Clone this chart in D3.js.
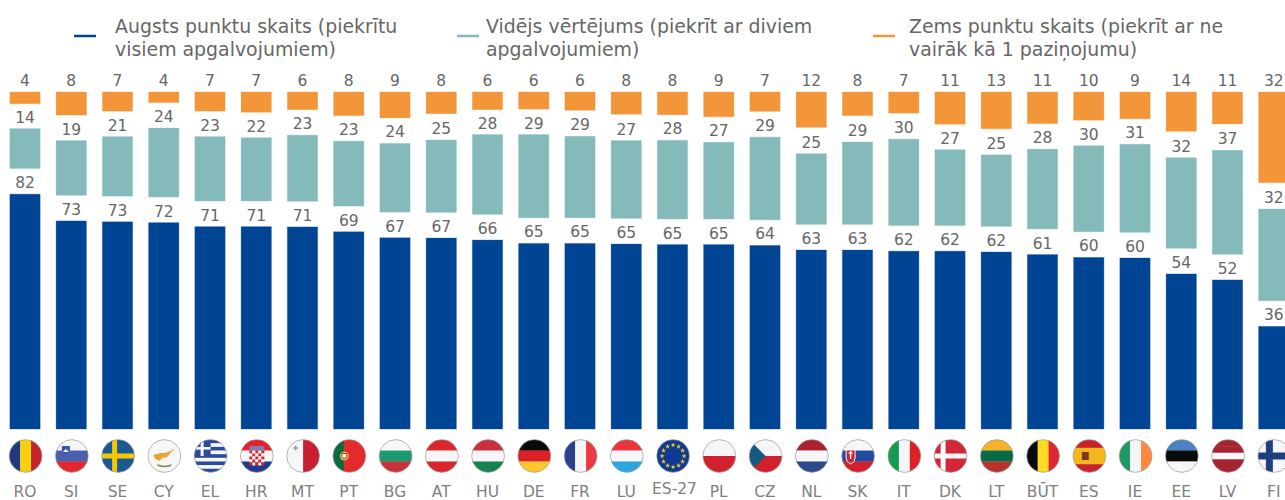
<!DOCTYPE html>
<html>
<head>
<meta charset="utf-8">
<style>
  html, body { margin: 0; padding: 0; background: #fff; overflow: hidden; }
  text { font-family: "DejaVu Sans", Verdana, sans-serif; }
</style>
<script src="https://cdn.jsdelivr.net/npm/d3@7"></script>
</head>
<body>
<div id="chart"></div>
<script>
// values (percent), labels are these rounded
var countries = ["RO","SI","SE","CY","EL","HR","MT","PT","BG","AT","HU","DE","FR","LU","ES-27","PL","CZ","NL","SK","IT","DK","LT","BŪT","ES","IE","EE","LV","FI"];
var high = [82.4,73.0,72.7,72.4,71.0,71.0,70.9,69.2,67.1,67.0,66.3,65.1,65.1,64.9,64.7,64.7,64.4,62.8,62.8,62.4,62.4,62.1,61.2,60.2,60.0,54.4,52.3,36.0];
var medium = [14.0,19.2,20.9,24.2,22.6,22.2,23.2,22.8,24.1,25.4,28.0,29.2,28.6,27.3,27.6,26.9,29.0,24.8,28.9,30.3,26.6,25.1,28.0,30.2,30.9,31.8,36.5,32.2];
var low = [4.1,8.1,6.7,3.7,6.7,7.1,6.2,8.3,9.1,7.6,6.2,6.0,6.4,7.8,8.0,8.7,6.8,12.4,8.3,7.4,11.3,12.9,11.1,9.9,9.4,13.8,11.2,31.8];
var legendLabels = [
  ["Augsts punktu skaits (piekrītu", "visiem apgalvojumiem)"],
  ["Vidējs vērtējums (piekrīt ar diviem", "apgalvojumiem)"],
  ["Zems punktu skaits (piekrīt ar ne", "vairāk kā 1 paziņojumu)"]
];
var spacer = 9; // invisible gap series between the blue and teal stacks

var width = 1285, height = 500;
var colors = {high: "#004494", medium: "#85BABB", low: "#F39539"};

var svg = d3.select("#chart").append("svg")
  .attr("width", width)
  .attr("height", height)
  .style("display", "block");

var x = d3.scaleBand()
  .domain(countries)
  .range([1.875, 1296.875])
  .paddingInner(0.345)
  .paddingOuter(0.1725);

var baseY = 429, topY = 92, unit = 2.85;
var yUp = d3.scaleLinear().domain([0, 100]).range([baseY, baseY - 100 * unit]);
var yDown = d3.scaleLinear().domain([0, 100]).range([topY, topY + 100 * unit]);

function bars(cls, color, y0, y1) {
  svg.selectAll("rect." + cls)
    .data(countries)
    .enter().append("rect")
      .attr("class", cls)
      .attr("x", function(d) { return x(d); })
      .attr("width", x.bandwidth())
      .attr("y", function(d, i) { return y1(i); })
      .attr("height", function(d, i) { return y0(i) - y1(i); })
      .attr("fill", color)
      .attr("stroke", color)
      .attr("stroke-opacity", 0.3)
      .attr("stroke-width", 1);
}

function labels(cls, values, y1) {
  svg.selectAll("text." + cls)
    .data(countries)
    .enter().append("text")
      .attr("class", cls)
      .attr("x", function(d) { return x(d) + x.bandwidth() / 2; })
      .attr("y", function(d, i) { return y1(i) - 6; })
      .attr("text-anchor", "middle")
      .attr("font-size", 15.5)
      .attr("fill", "#666")
      .text(function(d, i) { return Math.round(values[i]); });
}

// Blue at the bottom, teal stacked over it with the spacer, orange hangs from the top
var highTop = function(i) { return yUp(high[i]); };
var medBottom = function(i) { return yUp(high[i] + spacer); };
var medTop = function(i) { return yUp(high[i] + spacer + medium[i]); };
var lowTop = function(i) { return yDown(0); };
var lowBottom = function(i) { return yDown(low[i]); };

bars("high", colors.high, function() { return yUp(0); }, highTop);
bars("medium", colors.medium, medBottom, medTop);
bars("low", colors.low, lowBottom, lowTop);

labels("lblHigh", high, highTop);
labels("lblMedium", medium, medTop);
labels("lblLow", low, lowTop);

// Legend
var legendX = [74, 457, 873];
var legendColors = [colors.high, colors.medium, colors.low];
var legendTextX = [115, 486, 909];
legendLabels.forEach(function(lines, i) {
  svg.append("line")
    .attr("x1", legendX[i]).attr("x2", legendX[i] + 22)
    .attr("y1", 36).attr("y2", 36)
    .attr("stroke", legendColors[i])
    .attr("stroke-width", 2.5);
  lines.forEach(function(line, j) {
    svg.append("text")
      .attr("x", legendTextX[i])
      .attr("y", 33 + j * 23)
      .attr("font-size", 18.9)
      .attr("fill", "#666")
      .text(line);
  });
});

// Country codes under the bars
var codeNudge = {"ES-27": [2, -3]};
svg.selectAll("text.code")
  .data(countries)
  .enter().append("text")
    .attr("class", "code")
    .attr("x", function(d) { return x(d) + x.bandwidth() / 2 + (codeNudge[d] ? codeNudge[d][0] : 0); })
    .attr("y", function(d) { return 497 + (codeNudge[d] ? codeNudge[d][1] : 0); })
    .attr("text-anchor", "middle")
    .attr("font-size", 15.5)
    .attr("fill", "#808080")
    .text(function(d) { return d; });

// Flags: round badges made of stripes plus a few small extras
var r = 16.4;
var stripes = {
  RO: ["v", "#22387c", "#f6d110", "#c8202f"],
  SI: ["h", "#f6f6f8", "#4a5fae", "#e4272e"],
  SE: ["h", "#1a5a94"],
  CY: ["h", "#f7f7f7"],
  EL: ["h", "#2a4a9c", "#f7f7f9", "#2a4a9c", "#f7f7f9", "#2a4a9c", "#f7f7f9", "#2a4a9c", "#f7f7f9", "#2a4a9c"],
  HR: ["h", "#e3202c", "#f6f6f6", "#1f3a8a"],
  MT: ["v", "#f6f6f8", "#c8202f"],
  PT: ["v", "#0c6b3a", "#e42a2a", "#e42a2a"],
  BG: ["h", "#f6f6f6", "#1a9a6e", "#c8323a"],
  AT: ["h", "#d9262c", "#f6f6f8", "#d9262c"],
  HU: ["h", "#c8303f", "#f6f6f8", "#16834f"],
  DE: ["h", "#0a0a0a", "#dd2027", "#fdc82f"],
  FR: ["v", "#2b3f8e", "#f6f6f8", "#ec3a40"],
  LU: ["h", "#ea353d", "#f6f6f8", "#2ca6dd"],
  "ES-27": ["h", "#0f3a94"],
  PL: ["h", "#f6f6f8", "#d3202f"],
  CZ: ["h", "#f6f6f8", "#d3202f"],
  NL: ["h", "#a8232f", "#f6f6f8", "#2a4a8c"],
  SK: ["h", "#f6f6f8", "#2449a0", "#d3202f"],
  IT: ["v", "#169b4e", "#f6f6f8", "#dd2027"],
  DK: ["h", "#d3263a"],
  LT: ["h", "#f5b428", "#086a47", "#b8332e"],
  "BŪT": ["v", "#0a0a0a", "#fdda24", "#e0262e"],
  ES: ["h", "#c6242a", "#f5b81c", "#f5b81c", "#c6242a"],
  IE: ["v", "#1f9a66", "#f6f6f8", "#ff883e"],
  EE: ["h", "#4a82c2", "#0a0a0a", "#f6f6f8"],
  LV: ["h", "#a5232f", "#a5232f", "#f6f6f8", "#a5232f", "#a5232f"],
  FI: ["h", "#f6f6f8"]
};

function cross(g, color, cx, thick) {
  g.append("rect").attr("x", -r).attr("y", -thick / 2).attr("width", 2 * r).attr("height", thick).attr("fill", color);
  g.append("rect").attr("x", cx - thick / 2).attr("y", -r).attr("width", thick).attr("height", 2 * r).attr("fill", color);
}

var extras = {
  SE: function(g) { cross(g, "#f5c800", -3.5, 5); },
  DK: function(g) { cross(g, "#f6f6f8", -7.5, 5); },
  FI: function(g) { cross(g, "#1f3f80", -5, 7); },
  EL: function(g) {
    g.append("rect").attr("x", -r).attr("y", -r).attr("width", r).attr("height", r).attr("fill", "#2a4a9c");
    g.append("rect").attr("x", -10).attr("y", -r).attr("width", 3).attr("height", r).attr("fill", "#f7f7f9");
    g.append("rect").attr("x", -r).attr("y", -9).attr("width", r).attr("height", 2.6).attr("fill", "#f7f7f9");
  },
  CZ: function(g) {
    g.append("path").attr("d", d3.line()([[-r, -r], [0, 0], [-r, r]])).attr("fill", "#155a80");
  },
  CY: function(g) {
    g.append("path")
      .attr("d", "M-11,-1 L-4,-3 L1,-3 L6,-5 L11,-8 L6,-3 L3,1 L-2,2 L-5,5 L-9,3 Z")
      .attr("fill", "#e8a33c");
    g.append("path")
      .attr("d", "M-7,9 Q0,12 7,9")
      .attr("fill", "none").attr("stroke", "#7e8f5a").attr("stroke-width", 1.6);
  },
  MT: function(g) {
    g.append("path").attr("d", "M-10,-8 h5 M-7.500,-10.500 v5").attr("stroke", "#999").attr("stroke-width", 1.4);
  },
  HR: function(g) {
    d3.range(5).forEach(function(row) {
      d3.range(5).forEach(function(col) {
        g.append("rect")
          .attr("x", -7.5 + col * 3).attr("y", -5.5 + row * 3)
          .attr("width", 3).attr("height", 3)
          .attr("fill", (row + col) % 2 ? "#f6f6f6" : "#dd2027");
      });
    });
    g.append("rect").attr("x", -7.5).attr("y", -10).attr("width", 15).attr("height", 4.5).attr("fill", "#7d7fae");
  },
  SI: function(g) {
    g.append("path").attr("d", "M-10,-10 h8 v5 l-4,4 l-4,-4 Z").attr("fill", "#3c56a5");
    g.append("path").attr("d", "M-9,-4 l3,-3 l3,3 Z").attr("fill", "#f6f6f8");
  },
  SK: function(g) {
    g.append("path").attr("d", "M-12,-6 h9 v8 q0,4 -4.500,6 q-4.500,-2 -4.500,-6 Z").attr("fill", "#d3202f").attr("stroke", "#f6f6f8");
    g.append("path").attr("d", "M-9.500,-3 h4 M-7.500,-5 v8").attr("stroke", "#f6f6f8").attr("stroke-width", 1.4);
  },
  PT: function(g) {
    g.append("circle").attr("cx", -5).attr("cy", 0).attr("r", 4.5).attr("fill", "#d8b84a");
    g.append("path").attr("d", "M-7.500,-2.500 h5 v3 l-2.500,2.500 l-2.500,-2.500 Z").attr("fill", "#f6f6f8").attr("stroke", "#b23030");
  },
  ES: function(g) {
    g.append("rect").attr("x", -7.5).attr("y", -4).attr("width", 7).attr("height", 8).attr("fill", "#7a3b22");
  },
  "ES-27": function(g) {
    var star = d3.symbol(d3.symbolStar, 8);
    d3.range(12).forEach(function(k) {
      var a = k * Math.PI / 6;
      g.append("path")
        .attr("d", star)
        .attr("transform", "translate(" + (11 * Math.cos(a)) + "," + (11 * Math.sin(a)) + ")")
        .attr("fill", "#f5d010");
    });
  }
};

var defs = svg.append("defs");
defs.append("clipPath").attr("id", "flagClip")
  .append("circle").attr("r", r);

var flag = svg.selectAll("g.flag")
  .data(countries)
  .enter().append("g")
    .attr("class", "flag")
    .attr("transform", function(d) { return "translate(" + (x(d) + x.bandwidth() / 2 + 0.6) + ",456)"; });

flag.each(function(d) {
  var spec = stripes[d], g = d3.select(this);
  var inner = g.append("g").attr("clip-path", "url(#flagClip)");
  var n = spec.length - 1;
  var band = d3.scaleBand().domain(d3.range(n)).range([-r, r]);
  for (var k = 0; k < n; k++) {
    if (spec[0] == "v") {
      inner.append("rect").attr("x", band(k)).attr("y", -r).attr("width", band.bandwidth() + 0.3).attr("height", 2 * r).attr("fill", spec[k + 1]);
    } else {
      inner.append("rect").attr("x", -r).attr("y", band(k)).attr("width", 2 * r).attr("height", band.bandwidth() + 0.3).attr("fill", spec[k + 1]);
    }
  }
  if (extras[d]) extras[d](inner);
  g.append("circle").attr("r", r).attr("fill", "none").attr("stroke", "#999").attr("stroke-width", 0.7);
});
</script>
</body>
</html>
